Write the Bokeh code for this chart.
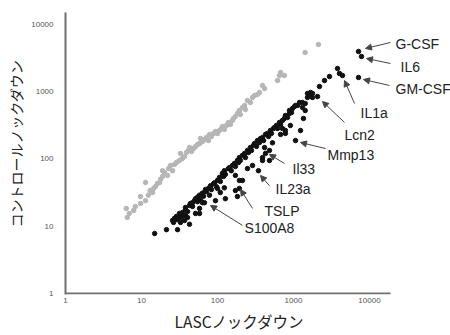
import math
from bokeh.plotting import figure
from bokeh.models import Range1d, FixedTicker, Label, Arrow, NormalHead, Title
from bokeh.embed import file_html
from bokeh.resources import INLINE

# ---- data ----
tick_values = [1, 10, 100, 1000, 10000]
tick_labels = ["1", "10", "100", "1000", "10000"]

gray_x = [6.5, 6.3, 6.9, 7.9, 8.3, 9.7, 9.7, 11.3, 11.3, 12.3, 13.0, 14.0, 14.4, 15.3, 16.2,
          17.3, 17.8, 18.9, 18.9, 20.1, 22, 22.7, 24.1, 25.6, 27.2, 28.9, 31.6, 32.6, 34.6, 36.8,
          39.1, 41.5, 42.8, 45.5, 48.4, 51.4, 54.6, 58, 59.8, 63.5, 67.4, 71.6, 76, 78.4, 83.2,
          88.4, 93.9, 100, 106, 113, 116, 123, 131, 139, 148, 157, 162, 172, 183, 194,
          200, 213, 227, 233, 248, 271, 289, 307, 336, 357, 391, 416, 616, 654, 676,
          760, 1423, 2130]
gray_y = [13.5, 18.4, 15.5, 17.1, 19.7, 21.8, 27.7, 24, 44.7, 29, 34, 31.8, 36.4, 39, 43.2,
          44.7, 49.6, 55, 67, 63, 57, 72, 80, 67, 83, 89, 95, 121, 102, 109,
          125, 134, 148, 129, 143, 153, 164, 170, 202, 182, 195, 209, 188, 231, 216,
          239, 256, 239, 265, 284, 304, 275, 315, 349, 326, 374, 400, 428, 475, 526,
          459, 583, 625, 545, 741, 692, 821, 879, 910, 975, 1238, 1117, 1469, 1744, 1932,
          1744, 3835, 5043]

black_x = [14.9, 21.3, 29.8,
           25.6, 27.2, 26.4, 28.9, 29.8, 31.6, 32.6, 34.6, 35.7, 37.9, 37.9, 40.3, 42.8, 44.1, 46.9,
           46.9, 49.8, 51.4, 54.6, 54.6, 58, 59.8, 63.5, 65.5, 69.5, 71.6, 76.2, 80.9, 83.3, 88.6,
           91.3, 97, 100, 106, 109, 116, 120, 123, 127, 139, 143, 152, 157, 167, 172, 183, 189,
           194, 200, 213, 227, 233, 248, 256, 271, 280, 298, 307, 326, 336, 357, 368, 391, 403,
           428, 455, 469, 497, 512, 545, 561, 597, 616, 654, 676, 716, 760, 783, 834, 885, 885,
           940, 970, 1030, 1063, 1129, 1199, 1313, 1313, 1427, 1528, 1528, 1675, 1675, 1778, 1778,
           2069, 2197, 2557, 2975, 3793, 4028, 4414, 7171, 7845, 7171,
           36.8, 40.3, 37.9, 51.4, 58, 63.5, 78.4, 94, 109, 123, 127, 100, 172, 183, 194, 194,
           172, 213, 248, 289, 346, 391, 428, 483, 416, 529, 483, 391, 676, 783, 716, 910, 783,
           1063, 1237, 1352, 1427, 32.6, 42.8, 58, 67.4]
black_y = [7.8, 8.9, 8.9,
           12.2, 13.1, 11.4, 14.0, 12.6, 15.5, 13.5, 16.0, 14.5, 17.7, 19.0, 16.5, 20.4, 21.8, 19.7,
           22.4, 24, 25.7, 23.2, 27.1, 29, 24.8, 31.1, 28, 35.2, 32.8, 36.4, 40, 35.2, 42.8,
           44.3, 38.7, 48, 53.2, 46.4, 61, 55, 67, 59, 71.8, 74.3, 67, 80, 85.7, 77.3, 95, 88.7,
           105, 95, 113, 121, 105, 134, 125, 148, 134, 159, 170, 154, 188, 176, 201, 208, 188,
           232, 240, 216, 265, 240, 284, 294, 315, 284, 349, 326, 374, 401, 444, 415, 476, 526,
           491, 563, 604, 625, 625, 692, 692, 584, 669, 821, 941, 975, 879, 941, 821,
           849, 1196, 1469, 1685, 2216, 1868, 1744, 3966, 3340, 1628,
           12.2, 13.5, 14.5, 15.5, 18.4, 22.4, 29, 24, 31.8, 37.3, 25.7, 36.4, 34, 27.7, 36.4, 48,
           57, 48, 72, 80, 67, 95, 121, 134, 148, 174, 95, 105, 232, 240, 284, 315, 265,
           188, 265, 401, 526, 11.4, 10.7, 15.5, 22.4]

gene_names = ["G-CSF", "IL6", "GM-CSF", "IL1a", "Lcn2", "Mmp13", "Il33", "IL23a", "TSLP", "S100A8"]

# annotation placement (data coordinates)
label_x = [21980, 25590, 21980, 7620, 4690, 2800, 970, 580, 415, 227]
label_y = [5210, 2295, 1080, 491, 231, 113, 72.2, 36.4, 17.1, 9.26]
tail_x = [18880, 18880, 18320, 6350, 4690, 2640, 762, 483, 289, 213]
tail_y = [5400, 2630, 1238, 669, 349, 143, 85.7, 40, 18.4, 10.3]
tip_x = [8860, 9140, 8340, 4690, 2408, 1236, 483, 368, 201, 80.9]
tip_y = [4400, 3120, 1521, 1469, 716, 176, 117, 57, 35.2, 20.4]
x_axis_end = 18880  # where the drawn x axis line stops

# ---- figure ----
p = figure(frame_width=387, frame_height=282, x_axis_type="log", y_axis_type="log",
           x_range=Range1d(1, 123640), y_range=Range1d(0.9664, 15070),
           output_backend="svg", toolbar_location=None,
           min_border_left=63, min_border_right=0, min_border_top=12, min_border_bottom=41)
p.grid.visible = False
p.outline_line_color = None
p.background_fill_color = "white"

for ax in (p.xaxis[0], p.yaxis[0]):
    ax.ticker = FixedTicker(ticks=tick_values)
    ax.major_label_overrides = {v: s for v, s in zip(tick_values, tick_labels)}
    ax.axis_line_color = "#707070"
    ax.axis_line_width = 2
    ax.major_tick_line_color = None
    ax.minor_tick_line_color = None
    ax.major_label_text_font = "Liberation Sans"
    ax.major_label_text_font_size = "8px"
    ax.major_label_text_color = "#555555"
p.yaxis[0].major_label_standoff = 6
p.xaxis[0].major_label_standoff = -3
p.xaxis[0].axis_line_color = None

# x axis line (stops short of the frame's right edge, as in the reference)
p.line([tick_values[0], x_axis_end], [tick_values[0], tick_values[0]],
       line_width=2, line_color="#707070")

p.scatter(gray_x, gray_y, size=4.5, color="#b6b6b6")
p.scatter(black_x, black_y, size=4.5, color="#111111")

for i, name in enumerate(gene_names):
    p.add_layout(Arrow(end=NormalHead(size=6, line_color="#444444", fill_color="#444444", line_width=1),
                       x_start=tail_x[i], y_start=tail_y[i], x_end=tip_x[i], y_end=tip_y[i],
                       line_color="#444444", line_width=1))
    p.add_layout(Label(x=label_x[i], y=label_y[i], text=name, text_align="left",
                       text_baseline="middle", text_font="Liberation Sans",
                       text_font_size="14px", text_color="#222222"))

p.add_layout(Title(text="LASCノックダウン", align="left", offset=109, standoff=5,
                   text_font="Noto Sans CJK JP", text_font_size="15.5px",
                   text_font_style="normal", text_color="#222222"), "below")
p.add_layout(Title(text="コントロールノックダウン", align="left", offset=67, standoff=6,
                   text_font="Noto Sans CJK JP", text_font_size="14px",
                   text_font_style="normal", text_color="#222222"), "left")

open("out.html", "w").write(file_html(p, INLINE))
